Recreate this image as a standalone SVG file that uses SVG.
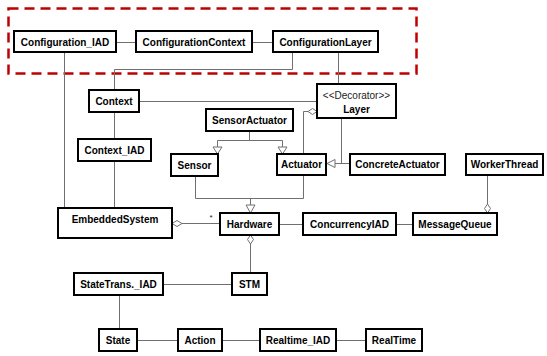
<svg xmlns="http://www.w3.org/2000/svg" width="547" height="356" viewBox="0 0 547 356">
  <style>
    .box { fill: #ffffff; stroke: #000000; stroke-width: 2; }
    .lbl { font-family: "Liberation Sans", Arial, sans-serif; font-size: 10px; font-weight: bold; fill: #000000; text-anchor: middle; }
    .ster { font-family: "Liberation Sans", Arial, sans-serif; font-size: 10px; fill: #222222; text-anchor: middle; }
    .mult { font-family: "Liberation Sans", Arial, sans-serif; font-size: 8px; fill: #222222; text-anchor: middle; }
    .conn line, .conn polyline { fill: none; stroke: #707070; stroke-width: 1; }
    .hollow { fill: #ffffff; stroke: #707070; stroke-width: 1; }
    .frame { fill: none; stroke: #c00000; stroke-width: 2.5; stroke-dasharray: 10 6; }
  </style>

  <!-- configuration area frame -->
  <rect class="frame" x="8.5" y="8.5" width="408" height="65"/>

  <g id="connectors" class="conn">
    <line x1="116" y1="42.5" x2="136" y2="42.5"/>
    <line x1="252" y1="42.5" x2="273" y2="42.5"/>
    <polyline points="292.5,52 292.5,69.5 114.5,69.5 114.5,90"/>
    <line x1="338.5" y1="52" x2="338.5" y2="84"/>
    <line x1="64.5" y1="52" x2="64.5" y2="208"/>
    <line x1="114.5" y1="112" x2="114.5" y2="139"/>
    <line x1="114.5" y1="161" x2="114.5" y2="208"/>
    <line x1="139" y1="101.5" x2="317" y2="101.5"/>

    <!-- SensorActuator generalizes Sensor and Actuator -->
    <polyline points="249.5,131 249.5,140.5"/>
    <polyline points="217.5,147 217.5,140.5 282.5,140.5 282.5,147"/>
    <polygon class="hollow" points="217.5,154 213,147 222,147"/>
    <polygon class="hollow" points="282.5,154 278,147 287,147"/>

    <!-- Sensor / Actuator generalize to Hardware -->
    <polyline points="195.5,176 195.5,198.5 303.5,198.5 303.5,175"/>
    <line x1="250.5" y1="198.5" x2="250.5" y2="205"/>
    <polygon class="hollow" points="250.5,213 246,205 255,205"/>

    <!-- Actuator aggregated by Layer -->
    <polyline points="303.5,154 303.5,111.5 308,111.5"/>
    <polygon class="hollow" points="308,111.5 312.5,108.5 317,111.5 312.5,114.5"/>

    <!-- Layer / ConcreteActuator to Actuator -->
    <line x1="341.5" y1="118" x2="341.5" y2="163.5"/>
    <line x1="335" y1="163.5" x2="350" y2="163.5"/>
    <polygon class="hollow" points="327,163.5 335,159.5 335,167.5"/>

    <!-- EmbeddedSystem aggregates Hardware -->
    <line x1="182" y1="223.5" x2="220" y2="223.5"/>
    <polygon class="hollow" points="172,223.5 177,220.5 182,223.5 177,226.5"/>

    <line x1="279" y1="224.5" x2="303" y2="224.5"/>
    <line x1="396" y1="224.5" x2="413" y2="224.5"/>

    <!-- WorkerThread aggregated by MessageQueue -->
    <line x1="487.5" y1="175" x2="487.5" y2="204"/>
    <polygon class="hollow" points="487.5,204 490.5,208.5 487.5,213 484.5,208.5"/>

    <!-- Hardware aggregates STM -->
    <polygon class="hollow" points="250.5,235 253.5,239.5 250.5,244 247.5,239.5"/>
    <line x1="250.5" y1="244" x2="250.5" y2="273"/>

    <line x1="163" y1="284.5" x2="232" y2="284.5"/>
    <line x1="119.5" y1="295" x2="119.5" y2="329"/>
    <line x1="137" y1="340.5" x2="178" y2="340.5"/>
    <line x1="222" y1="340.5" x2="260" y2="340.5"/>
    <line x1="336" y1="340.5" x2="366" y2="340.5"/>
  </g>

  <text class="mult" x="211" y="220">*</text>

  <g id="configuration-iad"><rect class="box" x="14" y="31" width="102" height="21"/><text class="lbl" x="65" y="45.5">Configuration_IAD</text></g>
  <g id="configuration-context"><rect class="box" x="136" y="31" width="116" height="21"/><text class="lbl" x="194" y="45.5">ConfigurationContext</text></g>
  <g id="configuration-layer"><rect class="box" x="273" y="31" width="105" height="21"/><text class="lbl" x="325.5" y="45.5">ConfigurationLayer</text></g>
  <g id="context"><rect class="box" x="89" y="90" width="50" height="22"/><text class="lbl" x="114" y="104.5">Context</text></g>
  <g id="layer"><rect class="box" x="317" y="84" width="79" height="34"/><text class="ster" x="356.5" y="99">&lt;&lt;Decorator&gt;&gt;</text><text class="lbl" x="356.5" y="113">Layer</text></g>
  <g id="sensor-actuator"><rect class="box" x="206" y="109" width="87" height="22"/><text class="lbl" x="249.5" y="123.5">SensorActuator</text></g>
  <g id="context-iad"><rect class="box" x="78" y="139" width="73" height="22"/><text class="lbl" x="114.5" y="153.5">Context_IAD</text></g>
  <g id="sensor"><rect class="box" x="171" y="154" width="47" height="22"/><text class="lbl" x="194.5" y="168.5">Sensor</text></g>
  <g id="actuator"><rect class="box" x="277" y="154" width="49" height="21"/><text class="lbl" x="301.5" y="168">Actuator</text></g>
  <g id="concrete-actuator"><rect class="box" x="350" y="154" width="95" height="21"/><text class="lbl" x="397.5" y="168">ConcreteActuator</text></g>
  <g id="worker-thread"><rect class="box" x="466" y="154" width="77" height="21"/><text class="lbl" x="504.5" y="168">WorkerThread</text></g>
  <g id="embedded-system"><rect class="box" x="58" y="208" width="114" height="30"/><text class="lbl" x="115" y="222.5">EmbeddedSystem</text></g>
  <g id="hardware"><rect class="box" x="220" y="213" width="59" height="22"/><text class="lbl" x="249.5" y="227.5">Hardware</text></g>
  <g id="concurrency-iad"><rect class="box" x="303" y="213" width="93" height="22"/><text class="lbl" x="349.5" y="227.5">ConcurrencyIAD</text></g>
  <g id="message-queue"><rect class="box" x="413" y="213" width="84" height="22"/><text class="lbl" x="455" y="227.5">MessageQueue</text></g>
  <g id="state-trans-iad"><rect class="box" x="74" y="273" width="89" height="22"/><text class="lbl" x="118.5" y="287.5">StateTrans._IAD</text></g>
  <g id="stm"><rect class="box" x="232" y="273" width="35" height="22"/><text class="lbl" x="249.5" y="287.5">STM</text></g>
  <g id="state"><rect class="box" x="99" y="329" width="38" height="22"/><text class="lbl" x="118" y="343.5">State</text></g>
  <g id="action"><rect class="box" x="178" y="329" width="44" height="22"/><text class="lbl" x="200" y="343.5">Action</text></g>
  <g id="realtime-iad"><rect class="box" x="260" y="329" width="76" height="22"/><text class="lbl" x="298" y="343.5">Realtime_IAD</text></g>
  <g id="realtime"><rect class="box" x="366" y="329" width="56" height="22"/><text class="lbl" x="394" y="343.5">RealTime</text></g>
</svg>
